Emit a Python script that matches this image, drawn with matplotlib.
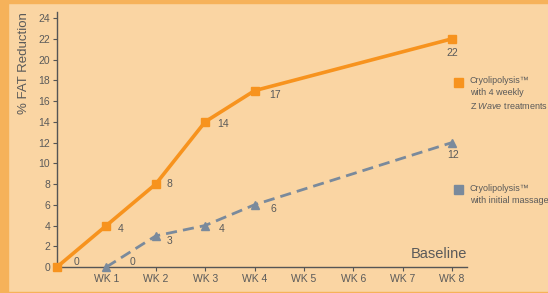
import matplotlib
matplotlib.use("Agg")
import matplotlib.pyplot as plt
from matplotlib.patches import Rectangle

# data
weeks_z = [0, 1, 2, 3, 4, 8]
fat_z = [0, 4, 8, 14, 17, 22]
weeks_m = [1, 2, 3, 4, 8]
fat_m = [0, 3, 4, 6, 12]
tick_pos = [1, 2, 3, 4, 5, 6, 7, 8]
tick_labels = ["WK 1", "WK 2", "WK 3", "WK 4", "WK 5", "WK 6", "WK 7", "WK 8"]
yticks = list(range(0, 25, 2))

# label offsets in pixels (dx, dy), dy positive = up
off_z = [(20, 5), (14, -3), (14, 0), (18, -2), (20, -4), (0, -14)]
off_m = [(26, 5), (14, -5), (16, -3), (19, -4), (1, -12)]

bg = "#FAD5A3"
border = "#F6B25A"
orange = "#F7931E"
slate = "#7A8A9C"
txt = "#5A5A5A"

plt.rcParams["font.family"] = ["Liberation Sans", "DejaVu Sans"]
plt.rcParams["mathtext.fontset"] = "custom"
plt.rcParams["mathtext.it"] = "Liberation Sans:italic"
plt.rcParams["mathtext.rm"] = "Liberation Sans"

fig = plt.figure(figsize=(5.48, 2.93), dpi=100)
fig.patch.set_facecolor(bg)
W, H = 548.0, 293.0

# orange frame strips
fig.add_artist(Rectangle((0, 0), 8 / W, 1, transform=fig.transFigure, color=border, zorder=0))
fig.add_artist(Rectangle((0, 1 - 3 / H), 1, 3 / H, transform=fig.transFigure, color=border, zorder=0))
fig.add_artist(Rectangle((0, 0), 1, 1.5 / H, transform=fig.transFigure, color=border, zorder=0))

ax = fig.add_axes([57 / W, 26 / H, 410 / W, 255 / H])
ax.set_facecolor("none")
ax.set_xlim(0, 8.3)
ax.set_ylim(0, 24.58)

for s in ["top", "right"]:
    ax.spines[s].set_visible(False)
for s in ["left", "bottom"]:
    ax.spines[s].set_color("#555555")
    ax.spines[s].set_linewidth(1.0)

ax.set_xticks(tick_pos)
ax.set_xticklabels(tick_labels)
ax.set_yticks(yticks)
ax.tick_params(axis="both", colors="#555555", labelcolor=txt, labelsize=7.5,
               length=3, width=0.8, pad=2)

fig.text(24 / W, 1 - 63 / H, "% FAT Reduction", rotation=90, fontsize=9.5,
         color=txt, ha="center", va="center")

ax.plot(weeks_m, fat_m, color=slate, lw=2, ls=(0, (4, 2.2)), marker="^",
        ms=6.3, clip_on=False, zorder=3)
ax.plot(weeks_z, fat_z, color=orange, lw=2.6, marker="s", ms=6.4,
        clip_on=False, zorder=4)

for (x, y), (dx, dy) in zip(zip(weeks_z, fat_z), off_z):
    ax.annotate(str(y), (x, y), xytext=(dx * 0.72, dy * 0.72),
                textcoords="offset points", fontsize=7.5, color=txt,
                va="center", ha="center")
for (x, y), (dx, dy) in zip(zip(weeks_m, fat_m), off_m):
    ax.annotate(str(y), (x, y), xytext=(dx * 0.72, dy * 0.72),
                textcoords="offset points", fontsize=7.5, color=txt,
                va="center", ha="center")

ax.text(1.0, 0.025, "Baseline", transform=ax.transAxes, ha="right", va="bottom",
        fontsize=10.5, color=txt)

# legend blocks
fig.add_artist(Rectangle((454 / W, 1 - 87 / H), 9 / W, 9 / H,
                         transform=fig.transFigure, color=orange))
fig.text(470 / W, 1 - 76 / H,
         "Cryolipolysis\u2122\nwith 4 weekly\nZ $\\mathit{Wave}$ treatments",
         fontsize=6.5, color=txt, va="top", ha="left", linespacing=1.45)

fig.add_artist(Rectangle((454 / W, 1 - 194 / H), 9 / W, 9 / H,
                         transform=fig.transFigure, color=slate))
fig.text(470 / W, 1 - 184 / H, "Cryolipolysis\u2122\nwith initial massage",
         fontsize=6.5, color=txt, va="top", ha="left", linespacing=1.45)

fig.savefig("out.png", dpi=100, facecolor=bg)
